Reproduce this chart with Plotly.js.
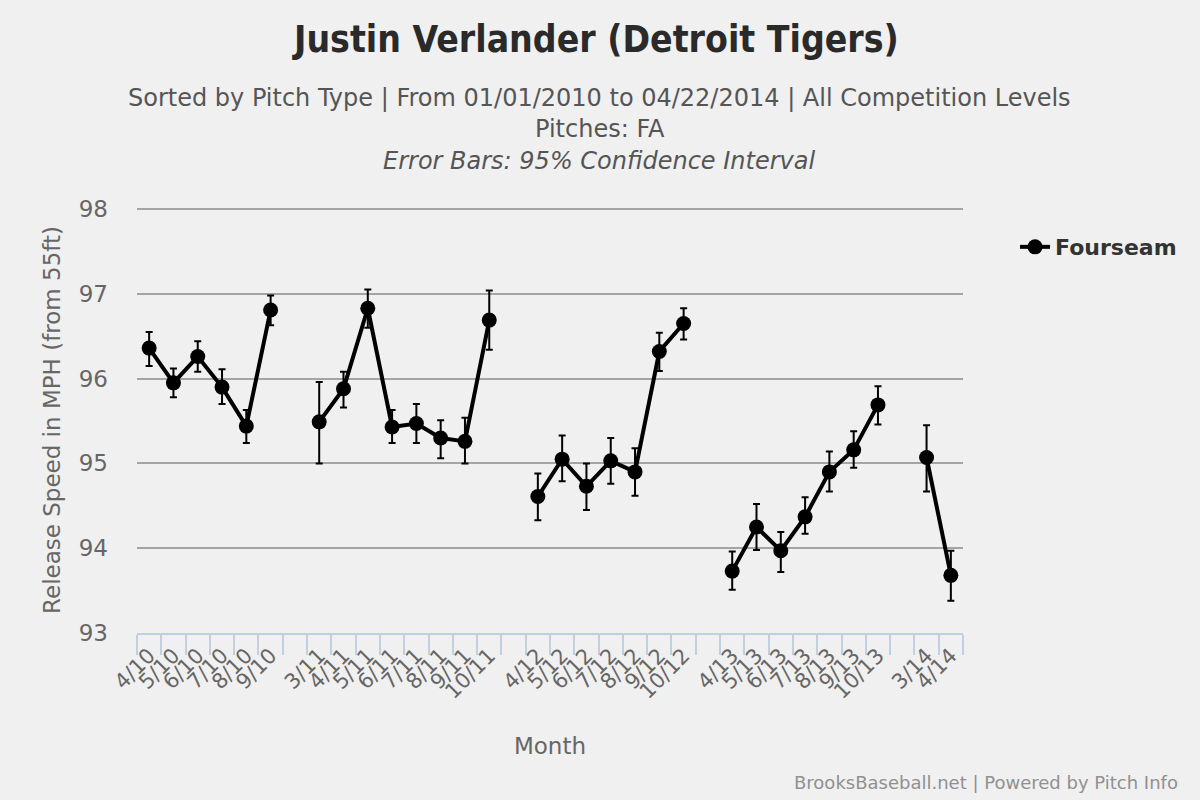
<!DOCTYPE html>
<html>
<head>
<meta charset="utf-8">
<script src="https://cdn.plot.ly/plotly-3.0.1.min.js"></script>
<style>
  html, body { margin: 0; padding: 0; background: #f0f0f0; }
  #chart { width: 1200px; height: 800px; }
</style>
</head>
<body>
<div id="chart"></div>
<script>
// month categories, blank entries are the off-season gaps
const months = [
    "4/10", "5/10", "6/10", "7/10", "8/10", "9/10", " ",
    "3/11", "4/11", "5/11", "6/11", "7/11", "8/11", "9/11", "10/11", "  ",
    "4/12", "5/12", "6/12", "7/12", "8/12", "9/12", "10/12", "   ",
    "4/13", "5/13", "6/13", "7/13", "8/13", "9/13", "10/13", "    ",
    "3/14", "4/14"
]

const fourseamSpeed = [
    96.36, 95.95, 96.26, 95.90, 95.44, 96.81, null,
    95.49, 95.88, 96.83, 95.43, 95.47, 95.30, 95.26, 96.69, null,
    94.61, 95.05, 94.73, 95.03, 94.90, 96.32, 96.65, null,
    93.73, 94.25, 93.97, 94.37, 94.90, 95.16, 95.69, null,
    95.07, 93.68
]

// 95% CI half widths, above and below the mean
const ciUpper = [
    0.19, 0.17, 0.18, 0.21, 0.19, 0.17, null,
    0.47, 0.20, 0.22, 0.20, 0.23, 0.21, 0.28, 0.35, null,
    0.27, 0.28, 0.27, 0.27, 0.28, 0.22, 0.18, null,
    0.23, 0.27, 0.22, 0.23, 0.24, 0.22, 0.22, null,
    0.38, 0.29
]
const ciLower = [
    0.21, 0.17, 0.18, 0.20, 0.20, 0.18, null,
    0.49, 0.22, 0.23, 0.19, 0.23, 0.24, 0.26, 0.35, null,
    0.28, 0.26, 0.28, 0.27, 0.28, 0.23, 0.19, null,
    0.22, 0.27, 0.25, 0.20, 0.23, 0.21, 0.23, null,
    0.40, 0.30
]

const yTicks = [93, 94, 95, 96, 97, 98]

const font = "DejaVu Sans, sans-serif"

const data = [{
    type: "scatter",
    mode: "lines+markers",
    name: "Fourseam",
    x: months,
    y: fourseamSpeed,
    connectgaps: false,
    line: { color: "#000000", width: 4 },
    marker: { color: "#000000", size: 15 },
    error_y: {
        type: "data",
        symmetric: false,
        array: ciUpper,
        arrayminus: ciLower,
        color: "#000000",
        thickness: 2,
        width: 3.5
    }
}]

const layout = {
    width: 1200,
    height: 800,
    margin: { l: 137, r: 237, t: 207, b: 167 },
    paper_bgcolor: "#f0f0f0",
    plot_bgcolor: "#f0f0f0",
    font: { family: font, color: "#666666" },
    title: {
        text: "<b>Justin Verlander (Detroit Tigers)</b>",
        font: { family: "DejaVu Sans Condensed, DejaVu Sans, sans-serif", size: 37, color: "#2a2a2a" },
        x: 0.497,
        xanchor: "center",
        y: 0.951,
        yanchor: "middle"
    },
    showlegend: true,
    legend: {
        x: 1.063,
        xanchor: "left",
        y: 0.906,
        yanchor: "middle",
        bgcolor: "rgba(0,0,0,0)",
        font: { family: font, size: 22, color: "#333333", weight: "bold" }
    },
    xaxis: {
        type: "category",
        categoryorder: "array",
        categoryarray: months,
        range: [-0.5, months.length - 0.5],
        tickmode: "linear",
        tick0: 0,
        dtick: 1,
        tickson: "boundaries",
        ticks: "outside",
        ticklen: 20,
        tickwidth: 2,
        tickcolor: "#c0d0e0",
        showline: true,
        linecolor: "#c0d0e0",
        linewidth: 2,
        showgrid: false,
        zeroline: false,
        tickangle: -45,
        tickfont: { size: 21, color: "#666666" },
        title: { text: "Month", font: { size: 23, color: "#666666" }, standoff: 35 }
    },
    yaxis: {
        range: [93, 98.024],
        tickmode: "array",
        tickvals: yTicks,
        ticktext: yTicks.map(String),
        showgrid: true,
        gridcolor: "#a4a4a4",
        gridwidth: 2,
        zeroline: false,
        showline: false,
        ticks: "",
        ticklabelstandoff: 28,
        tickfont: { size: 23, color: "#666666" },
        title: { text: "Release Speed in MPH (from 55ft)", font: { size: 23, color: "#666666" }, standoff: 11 }
    },
    annotations: [
        {
            text: "Sorted by Pitch Type | From 01/01/2010 to 04/22/2014 | All Competition Levels",
            xref: "paper", yref: "paper", x: 0.56, y: 1.256,
            xanchor: "center", yanchor: "middle", showarrow: false,
            font: { family: font, size: 24, color: "#555555" }
        },
        {
            text: "Pitches: FA",
            xref: "paper", yref: "paper", x: 0.56, y: 1.183,
            xanchor: "center", yanchor: "middle", showarrow: false,
            font: { family: font, size: 24, color: "#555555" }
        },
        {
            text: "<i>Error Bars: 95% Confidence Interval</i>",
            xref: "paper", yref: "paper", x: 0.56, y: 1.108,
            xanchor: "center", yanchor: "middle", showarrow: false,
            font: { family: font, size: 24, color: "#555555" }
        },
        {
            text: "BrooksBaseball.net | Powered by Pitch Info",
            xref: "paper", yref: "paper", x: 1.263, y: -0.352,
            xanchor: "right", yanchor: "middle", showarrow: false,
            font: { family: font, size: 18, color: "#909090" }
        }
    ]
}

const config = { displayModeBar: false, responsive: false }

Plotly.newPlot("chart", data, layout, config)
</script>
</body>
</html>
